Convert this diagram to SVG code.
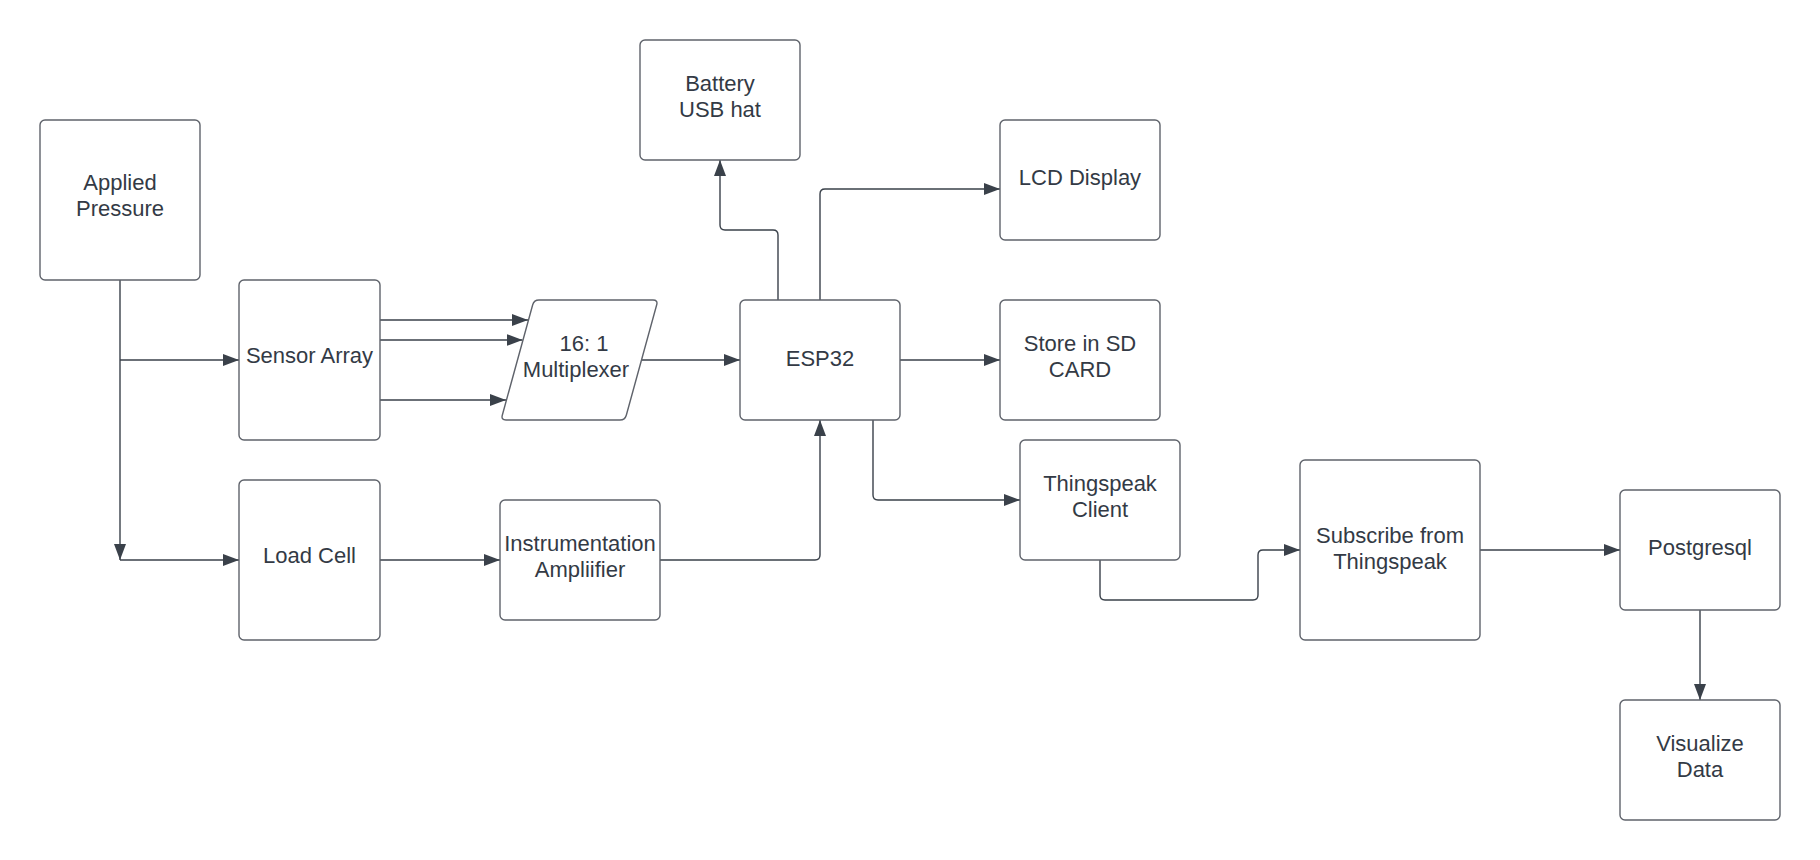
<svg xmlns="http://www.w3.org/2000/svg" width="1820" height="860" viewBox="0 0 1820 860">
<style>
.box{fill:#ffffff;stroke:#5f636b;stroke-width:1.4}
.t{font-family:"Liberation Sans",Arial,sans-serif;font-size:22px;fill:#333a45;text-anchor:middle}
.c{fill:none;stroke:#3a414a;stroke-width:1.4;marker-end:url(#arr)}
</style>
<defs>
<marker id="arr" markerUnits="userSpaceOnUse" markerWidth="16" markerHeight="12" refX="16" refY="6" orient="auto">
<path d="M0,0 L16,6 L0,12 z" fill="#3a414a"/>
</marker>
</defs>
<rect width="1820" height="860" fill="#ffffff"/>
<g id="connectors">
<path class="c" d="M120,280 V560"/>
<path class="c" d="M120,360 H239"/>
<path class="c" d="M120,560 H239"/>
<path class="c" d="M380,320 H528"/>
<path class="c" d="M380,340 H522.5"/>
<path class="c" d="M380,400 H506"/>
<path class="c" d="M380,560 H500"/>
<path class="c" d="M660,560 H815 Q820,560 820,555 V420"/>
<path class="c" d="M641.5,360 H740"/>
<path class="c" d="M778,300 V235 Q778,230 773,230 H725 Q720,230 720,225 V160"/>
<path class="c" d="M820,300 V194 Q820,189 825,189 H1000"/>
<path class="c" d="M900,360 H1000"/>
<path class="c" d="M873,420 V495 Q873,500 878,500 H1020"/>
<path class="c" d="M1100,560 V595 Q1100,600 1105,600 H1253 Q1258,600 1258,595 V555 Q1258,550 1263,550 H1300"/>
<path class="c" d="M1480,550 H1620"/>
<path class="c" d="M1700,610 V700"/>
</g>
<g id="applied-pressure">
<rect class="box" x="40" y="120" width="160" height="160" rx="5"/>
<text class="t" x="120" y="190">Applied</text>
<text class="t" x="120" y="216">Pressure</text>
</g>
<g id="sensor-array">
<rect class="box" x="239" y="280" width="141" height="160" rx="5"/>
<text class="t" x="309.5" y="363">Sensor Array</text>
</g>
<g id="load-cell">
<rect class="box" x="239" y="480" width="141" height="160" rx="5"/>
<text class="t" x="309.5" y="563">Load Cell</text>
</g>
<g id="multiplexer">
<path class="box" d="M539,300 L653,300 Q658,300 656.7,304.8 L626.3,415.2 Q625,420 620,420 L506,420 Q501,420 502.3,415.2 L532.7,304.8 Q534,300 539,300 Z"/>
<text class="t" x="584" y="351">16: 1</text>
<text class="t" x="576" y="377">Multiplexer</text>
</g>
<g id="instrumentation-amplifier">
<rect class="box" x="500" y="500" width="160" height="120" rx="5"/>
<text class="t" x="580" y="551">Instrumentation</text>
<text class="t" x="580" y="577">Ampliifier</text>
</g>
<g id="esp32">
<rect class="box" x="740" y="300" width="160" height="120" rx="5"/>
<text class="t" x="820" y="366">ESP32</text>
</g>
<g id="battery-usb-hat">
<rect class="box" x="640" y="40" width="160" height="120" rx="5"/>
<text class="t" x="720" y="91">Battery</text>
<text class="t" x="720" y="117">USB hat</text>
</g>
<g id="lcd-display">
<rect class="box" x="1000" y="120" width="160" height="120" rx="5"/>
<text class="t" x="1080" y="185">LCD Display</text>
</g>
<g id="sd-card">
<rect class="box" x="1000" y="300" width="160" height="120" rx="5"/>
<text class="t" x="1080" y="351">Store in SD</text>
<text class="t" x="1080" y="377">CARD</text>
</g>
<g id="thingspeak-client">
<rect class="box" x="1020" y="440" width="160" height="120" rx="5"/>
<text class="t" x="1100" y="491">Thingspeak</text>
<text class="t" x="1100" y="517">Client</text>
</g>
<g id="subscribe-thingspeak">
<rect class="box" x="1300" y="460" width="180" height="180" rx="5"/>
<text class="t" x="1390" y="543">Subscribe from</text>
<text class="t" x="1390" y="569">Thingspeak</text>
</g>
<g id="postgresql">
<rect class="box" x="1620" y="490" width="160" height="120" rx="5"/>
<text class="t" x="1700" y="555">Postgresql</text>
</g>
<g id="visualize-data">
<rect class="box" x="1620" y="700" width="160" height="120" rx="5"/>
<text class="t" x="1700" y="751">Visualize</text>
<text class="t" x="1700" y="777">Data</text>
</g>
</svg>
